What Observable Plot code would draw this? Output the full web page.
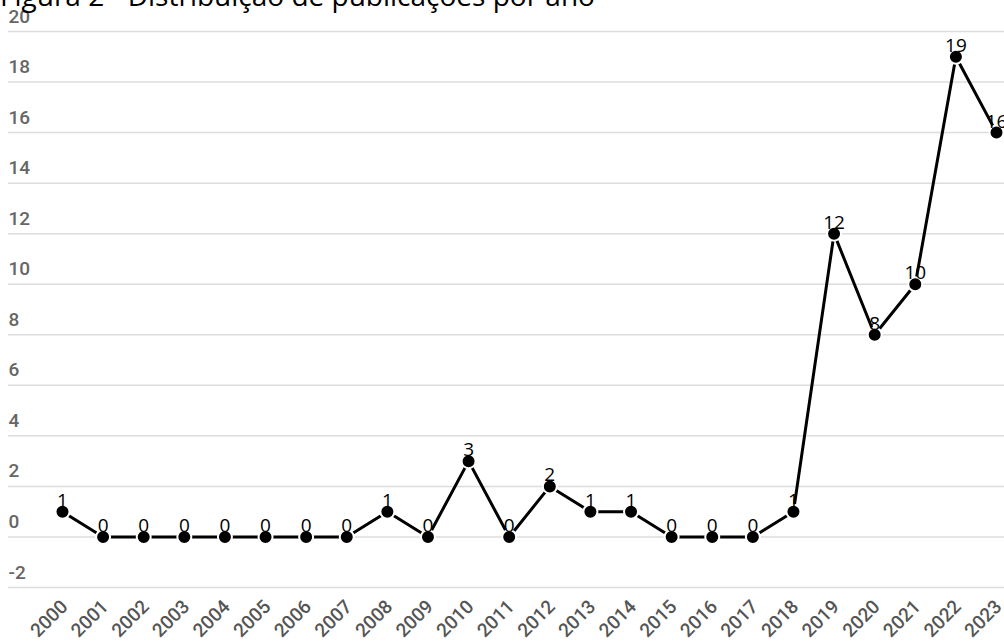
<!DOCTYPE html>
<html>
<head>
<meta charset="utf-8">
<script src="https://cdn.jsdelivr.net/npm/d3@7"></script>
<script src="https://cdn.jsdelivr.net/npm/@observablehq/plot@0.6"></script>
<style>
  html, body { margin: 0; padding: 0; background: #fff; overflow: hidden; }
  #wrap { position: relative; width: 1004px; height: 642px; overflow: hidden; }
  #title { position: absolute; left: 0; top: -19px; font-family: "Open Sans", sans-serif; font-size: 28px; line-height: 28px; color: #000; white-space: nowrap; z-index: 2; }
  #chart { position: absolute; left: 0; top: 0; }
</style>
</head>
<body>
<div id="wrap">
  <div id="title">Figura 2 - Distribuição de publicações por ano</div>
  <div id="chart"></div>
</div>
<script>
const years = [2000,2001,2002,2003,2004,2005,2006,2007,2008,2009,2010,2011,2012,2013,2014,2015,2016,2017,2018,2019,2020,2021,2022,2023];
const counts = [1,0,0,0,0,0,0,0,1,0,3,0,2,1,1,0,0,0,1,12,8,10,19,16];
const yTicks = [-2,0,2,4,6,8,10,12,14,16,18,20];
const yTickLabels = ["-2","0","2","4","6","8","10","12","14","16","18","20"];

const data = years.map((y, i) => ({year: y, count: counts[i]}));
const yTickData = yTicks.map((v, i) => ({v, label: yTickLabels[i]}));

const plot = Plot.plot({
  width: 1004,
  height: 642,
  marginLeft: 8,
  marginRight: 0,
  marginTop: 31,
  marginBottom: 55,
  insetLeft: 54,
  insetRight: 8,
  x: {type: "linear", domain: [2000, 2023], axis: null},
  y: {domain: [-2, 20], axis: null},
  style: {background: "transparent", overflow: "visible"},
  marks: [
    Plot.ruleY(yTicks, {stroke: "#dcdcdc", strokeWidth: 1.5}),
    Plot.text(yTickData, {y: "v", text: "label", frameAnchor: "left", textAnchor: "start", lineAnchor: "bottom", dy: -9, fill: "#666", fontSize: 19, fontFamily: "Roboto", fontWeight: 500}),
    Plot.text(years, {x: d => d, text: d => String(d), frameAnchor: "bottom", textAnchor: "end", lineAnchor: "middle", rotate: -45, dx: 2, dy: 16, fill: "#555", fontSize: 19, fontFamily: "Roboto", fontWeight: 500}),
    Plot.line(data, {x: "year", y: "count", stroke: "#000", strokeWidth: 3}),
    Plot.dot(data, {x: "year", y: "count", r: 7, fill: "#000", stroke: "#fff", strokeWidth: 2}),
    Plot.text(data, {x: "year", y: "count", text: d => String(d.count), textAnchor: "middle", lineAnchor: "bottom", dy: -5, fill: "#000", fontSize: 19, fontFamily: "Open Sans"})
  ]
});
document.getElementById("chart").appendChild(plot);
</script>
</body>
</html>
